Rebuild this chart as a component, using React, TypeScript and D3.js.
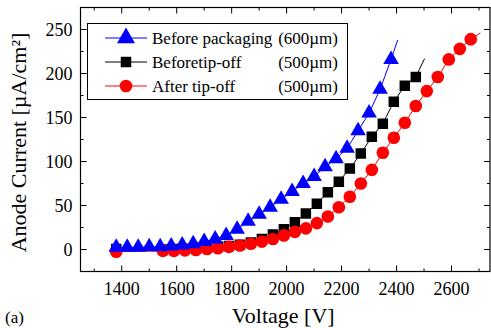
import * as d3 from "d3";

const voltBlue = d3.range(1380, 2381, 40);
const currBlue = [2.5, 2.5, 2.5, 3, 3, 4, 5, 6.5, 9, 12, 16, 23, 32, 40, 48, 57, 66, 75, 83, 94, 103, 115, 135, 155, 182, 216];
const voltBlack = [1380, ...d3.range(1550, 2471, 40)];
const currBlack = [0.5, 0, 0.5, 1, 1.5, 2, 3, 4, 5.5, 8, 12, 17, 23, 31, 41, 52, 65, 77, 92, 109, 128, 143, 168, 186, 196];
const voltRed = [1380, ...d3.range(1550, 2671, 40)];
const currRed = [-2.5, -1.5, -1.5, -1, -0.5, 0.5, 1.5, 3, 4.5, 6.5, 9, 12, 16, 20, 24, 30, 37.5, 48, 60, 75, 90.5, 110, 127, 144, 163, 180, 196, 216, 228, 239];
// fitted curves run a little past the last measured point
const tailBlue: [number, number] = [2404, 238];
const tailBlack: [number, number] = [2502, 217];
const tailRed: [number, number] = [2705, 246];

const xMajor = d3.range(1400, 2601, 200);
const xMinor = d3.range(1300, 2701, 100);
const yMajor = d3.range(0, 251, 50);
const yMinor = d3.range(-25, 276, 25);

const legendLabels = ["Before packaging", "Beforetip-off", "After tip-off"];
const legendSizes = ["(600\u00b5m)", "(500\u00b5m)", "(500\u00b5m)"];
const yTitle = "Anode Current [\u00b5A/cm\u00b2]";

export default function App() {
  const W = 491;
  const H = 328;
  const mg = { top: 7.5, right: 1, bottom: 56.5, left: 80.5 };
  const x = d3.scaleLinear([1250, 2740], [mg.left, W - mg.right]);
  const y = d3.scaleLinear([-25, 275], [H - mg.bottom, mg.top]);
  const font = "'Liberation Serif', 'Times New Roman', serif";

  const series = [
    { v: voltBlack, c: currBlack, tail: tailBlack, color: "#000000", shape: d3.symbolSquare, size: 110 },
    { v: voltRed, c: currRed, tail: tailRed, color: "#ff0000", shape: d3.symbolCircle, size: 125 },
    { v: voltBlue, c: currBlue, tail: tailBlue, color: "#0000ff", shape: d3.symbolTriangle, size: 105 },
  ];
  const legendOrder = [series[2], series[0], series[1]];

  const line = d3
    .line<[number, number]>()
    .x((d) => x(d[0]))
    .y((d) => y(d[1]));

  const x0 = mg.left;
  const x1 = W - mg.right;
  const y0 = H - mg.bottom;
  const y1 = mg.top;

  return (
    <svg
      width={W}
      height={H}
      style={{ position: "absolute", left: 0, top: 0, background: "#fff" }}
      fontFamily={font}
    >
      <defs>
        <clipPath id="plotClip">
          <rect x={x0} y={y1} width={x1 - x0} height={y0 - y1} />
        </clipPath>
      </defs>

      {series.map((s, i) => {
        const pts: [number, number][] = s.v.map((v, j) => [v, s.c[j]]);
        return (
          <g key={i} clipPath="url(#plotClip)">
            <path d={line([...pts, s.tail]) ?? ""} fill="none" stroke={s.color} strokeWidth={1} />
            {pts.map((p, j) => (
              <path
                key={j}
                d={d3.symbol(s.shape, s.size)() ?? ""}
                transform={`translate(${x(p[0])},${y(p[1])})`}
                fill={s.color}
              />
            ))}
          </g>
        );
      })}

      {/* frame */}
      <rect x={x0} y={y1} width={x1 - x0} height={y0 - y1} fill="none" stroke="#000" strokeWidth={1.2} />

      {xMinor.map((t) => {
        const len = xMajor.includes(t) ? 6 : 3;
        return (
          <g key={t}>
            <line x1={x(t)} x2={x(t)} y1={y0} y2={y0 - len} stroke="#000" />
            <line x1={x(t)} x2={x(t)} y1={y1} y2={y1 + len} stroke="#000" />
          </g>
        );
      })}
      {yMinor
        .filter((t) => t > -25 && t < 275)
        .map((t) => {
          const len = yMajor.includes(t) ? 6 : 3;
          return (
            <g key={t}>
              <line x1={x0} x2={x0 + len} y1={y(t)} y2={y(t)} stroke="#000" />
              <line x1={x1} x2={x1 - len} y1={y(t)} y2={y(t)} stroke="#000" />
            </g>
          );
        })}

      {xMajor.map((t) => (
        <text key={t} x={x(t)} y={y0 + 23} fontSize={18} textAnchor="middle" fill="#000">
          {t}
        </text>
      ))}
      {yMajor.map((t) => (
        <text key={t} x={x0 - 8} y={y(t) + 6} fontSize={18} textAnchor="end" fill="#000">
          {t}
        </text>
      ))}

      <text x={(x0 + x1) / 2 - 2} y={H - 5} fontSize={22} textAnchor="middle" fill="#000">
        Voltage [V]
      </text>
      <text
        transform={`translate(26,${(y0 + y1) / 2 + 3}) rotate(-90)`}
        fontSize={22}
        textAnchor="middle"
        fill="#000"
      >
        {yTitle}
      </text>
      <text x={5} y={H - 5} fontSize={17} fill="#000">
        (a)
      </text>

      {/* legend */}
      <g transform="translate(87,23)">
        <rect x={0.5} y={0.5} width={260} height={76} fill="#fff" stroke="#000" strokeWidth={1} />
        {legendOrder.map((s, i) => {
          const ly = 15 + i * 24;
          return (
            <g key={i}>
              <line x1={18} x2={60} y1={ly} y2={ly} stroke={s.color} />
              <path
                d={d3.symbol(s.shape, s.shape === d3.symbolTriangle ? 140 : s.size)() ?? ""}
                transform={`translate(39,${ly})`}
                fill={s.color}
              />
              <text x={65} y={ly + 6} fontSize={17} fill="#000">
                {legendLabels[i]}
              </text>
              <text x={251} y={ly + 6} fontSize={17} textAnchor="end" fill="#000">
                {legendSizes[i]}
              </text>
            </g>
          );
        })}
      </g>
    </svg>
  );
}
